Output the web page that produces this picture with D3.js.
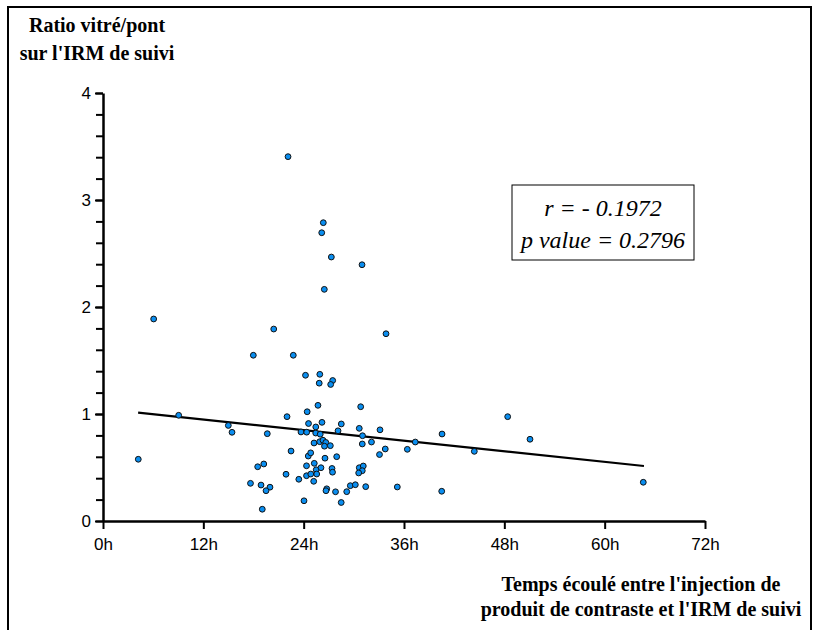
<!DOCTYPE html>
<html><head><meta charset="utf-8">
<script src="https://cdn.jsdelivr.net/npm/d3@7"></script>
<style>body{margin:0;background:#fff}</style>
</head><body>
<svg id="c" width="818" height="630"></svg>
<script>
// Hours between injection and follow-up MRI
const hours = [4.22,6.06,9.05,14.99,15.43,17.64,17.98,18.50,19.23,18.90,19.97,19.50,19.05,19.65,20.42,22.13,22.76,22.01,22.49,21.89,
23.42,24.04,23.68,24.22,24.42,24.58,24.36,24.55,24.84,24.34,24.34,24.85,25.20,25.24,25.27,25.45,25.44,25.50,25.56,25.71,
25.93,25.86,25.98,25.92,26.07,26.35,26.16,26.19,26.31,26.65,26.49,26.55,26.47,27.31,27.47,27.23,27.19,27.39,27.45,26.76,
26.67,27.81,27.95,28.11,28.50,28.49,29.15,29.58,30.18,30.65,30.82,30.98,31.04,31.01,30.65,31.13,31.01,30.58,31.42,32.11,
33.13,33.07,33.85,33.76,35.20,36.40,37.35,40.55,40.51,44.41,48.40,51.07,64.62];
// Vitreous / pons ratio
const ratios = [0.577,1.888,0.988,0.893,0.829,0.352,1.549,0.507,0.533,0.336,0.316,0.283,0.110,0.816,1.794,3.405,1.549,0.975,0.654,0.437,
0.390,0.189,0.832,1.362,1.021,0.911,0.830,0.607,0.637,0.516,0.423,0.439,0.371,0.729,0.539,0.879,0.822,0.479,0.439,1.081,
1.371,1.288,0.811,0.741,0.498,2.788,2.694,0.922,0.755,0.734,0.699,0.587,2.165,2.467,1.313,1.276,0.704,0.491,0.456,0.301,
0.283,0.273,0.601,0.843,0.907,0.173,0.274,0.330,0.339,0.866,1.068,2.395,0.797,0.720,0.498,0.514,0.470,0.449,0.321,0.738,
0.852,0.621,1.750,0.673,0.318,0.670,0.738,0.813,0.278,0.651,0.975,0.764,0.362];
// Regression line end points
const fitX = [4.2, 64.7];
const fitY = [1.012, 0.514];
const xTicks = [0,12,24,36,48,60,72];
const xTickLabels = ["0h","12h","24h","36h","48h","60h","72h"];
const yTicks = [0,1,2,3,4];
const yMinorTicks = d3.range(0, 4.001, 0.2);
const yTitle = ["Ratio vitré/pont","sur l'IRM de suivi"];
const xTitle = ["Temps écoulé entre l'injection de","produit de contraste et l'IRM de suivi"];
const statsText = ["r = - 0.1972","p value = 0.2796"];

const svg = d3.select("#c");
// outer frame
svg.append("rect").attr("x",8).attr("y",7).attr("width",803).attr("height",640)
  .attr("fill","none").attr("stroke","#000").attr("stroke-width",2);

const x = d3.scaleLinear().domain([0,72]).range([103,705]);
const y = d3.scaleLinear().domain([0,4]).range([521,93]);

// minor y ticks
const yMinor = svg.append("g").attr("transform","translate(103,0)")
  .call(d3.axisLeft(y).tickValues(yMinorTicks).tickSize(7).tickFormat(""));
yMinor.select(".domain").remove();
yMinor.selectAll("line").attr("stroke-width",2);

const yAxis = svg.append("g").attr("transform","translate(103,0)")
  .call(d3.axisLeft(y).tickValues(yTicks).tickSize(8).tickSizeOuter(0).tickFormat(d3.format("d")));
yAxis.select(".domain").attr("stroke-width",2.5);
yAxis.selectAll("line").attr("stroke-width",2);
yAxis.selectAll("text").attr("font-family","Liberation Sans, Arial, sans-serif").attr("font-size",17).attr("fill","#000").attr("dx",-1);

const xAxis = svg.append("g").attr("transform","translate(0,521)")
  .call(d3.axisBottom(x).tickValues(xTicks).tickSize(8).tickSizeOuter(0).tickFormat((d,i)=>xTickLabels[i]));
xAxis.select(".domain").attr("stroke-width",2.5);
xAxis.selectAll("line").attr("stroke-width",2);
xAxis.selectAll("text").attr("font-family","Liberation Sans, Arial, sans-serif").attr("font-size",17).attr("fill","#000").attr("dy","1.05em");

// regression line
svg.append("line")
  .attr("x1",x(fitX[0])).attr("y1",y(fitY[0]))
  .attr("x2",x(fitX[1])).attr("y2",y(fitY[1]))
  .attr("stroke","#000").attr("stroke-width",2.2);

// points
svg.append("g").selectAll("circle").data(hours.map((h,i)=>[h,ratios[i]])).join("circle")
  .attr("cx",d=>x(d[0])).attr("cy",d=>y(d[1])).attr("r",2.9)
  .attr("fill","#0a8ef0").attr("stroke","#111").attr("stroke-width",1);

// y title
svg.append("text").attr("font-family","Liberation Serif, Times New Roman, serif").attr("font-weight","bold")
  .attr("font-size",20).attr("text-anchor","middle")
  .selectAll("tspan").data(yTitle).join("tspan")
  .attr("x",97).attr("y",(d,i)=>32+i*28).text(d=>d);

// x title
svg.append("text").attr("font-family","Liberation Serif, Times New Roman, serif").attr("font-weight","bold")
  .attr("font-size",20).attr("text-anchor","middle")
  .selectAll("tspan").data(xTitle).join("tspan")
  .attr("x",641).attr("y",(d,i)=>591+i*25).text(d=>d);

// stats box
svg.append("rect").attr("x",512).attr("y",185).attr("width",182).attr("height",75)
  .attr("fill","#fff").attr("stroke","#000").attr("stroke-width",1);
svg.append("text").attr("font-family","Liberation Serif, Times New Roman, serif").attr("font-style","italic")
  .attr("font-size",24).attr("text-anchor","middle")
  .selectAll("tspan").data(statsText).join("tspan")
  .attr("x",603).attr("y",(d,i)=>216+i*32).text(d=>d);
</script>
</body></html>
